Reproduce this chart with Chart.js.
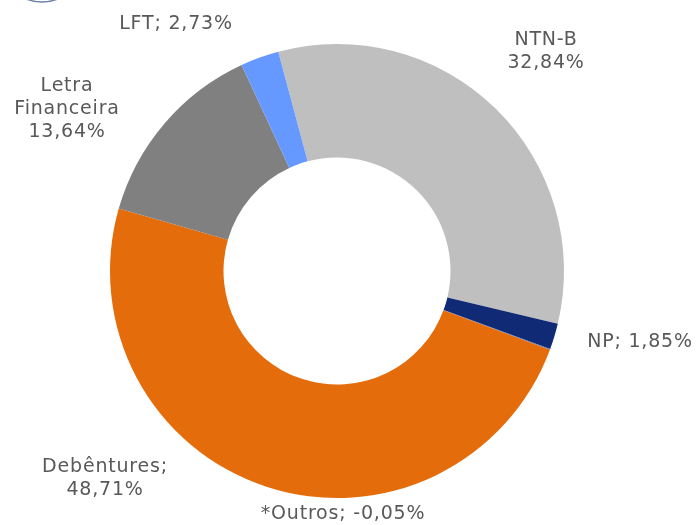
<!DOCTYPE html>
<html>
<head>
<meta charset="utf-8">
<script src="https://cdn.jsdelivr.net/npm/chart.js@4"></script>
<style>
  html, body { margin: 0; padding: 0; background: #fff; }
  #wrap { width: 697px; height: 525px; position: relative; }
</style>
</head>
<body>
<div id="wrap"><canvas id="chart"></canvas></div>
<script>
// data
const categories = ['NTN-B', 'NP', '*Outros', 'Debêntures', 'Letra Financeira', 'LFT'];
const shares = [32.84, 1.85, -0.05, 48.71, 13.64, 2.73];
const sliceColors = ['#bfbfbf', '#112a75', '#4472c4', '#e46c0a', '#808080', '#6699ff'];

// label text lines and where Excel put them (center of each block)
const labelLines = [
  ['NTN-B', '32,84%'],
  ['NP; 1,85%'],
  ['*Outros; -0,05%'],
  ['Debêntures;', '48,71%'],
  ['Letra', 'Financeira', '13,64%'],
  ['LFT; 2,73%']
];
const labelSpots = [
  [546, 52], [640, 342], [343, 514], [105, 479], [67, 109], [176, 24]
];

const labelPlugin = {
  id: 'outLabels',
  afterDatasetsDraw(chart) {
    const ctx = chart.ctx;
    ctx.save();
    ctx.fillStyle = '#595959';
    ctx.font = '19px "DejaVu Sans"';
    ctx.letterSpacing = '0.8px';
    ctx.textAlign = 'center';
    ctx.textBaseline = 'middle';
    const lh = 23;
    labelLines.forEach((lines, i) => {
      const [cx, cy] = labelSpots[i];
      const y0 = cy - (lines.length - 1) * lh / 2;
      lines.forEach((t, j) => ctx.fillText(t, cx, y0 + j * lh));
    });
    // bit of the logo cut off at the top-left corner
    ctx.strokeStyle = '#6a7fa6';
    ctx.lineWidth = 1.5;
    ctx.beginPath();
    ctx.arc(42, -40, 42, 0.3 * Math.PI, 0.7 * Math.PI);
    ctx.stroke();
    ctx.restore();
  }
};

new Chart(document.getElementById('chart'), {
  type: 'doughnut',
  data: {
    labels: categories,
    datasets: [{
      data: shares,
      backgroundColor: sliceColors,
      borderWidth: 0
    }]
  },
  options: {
    responsive: true,
    maintainAspectRatio: false,
    animation: false,
    rotation: -15,
    cutout: '50%',
    layout: { padding: { left: 110, right: 133, top: 44, bottom: 27 } },
    plugins: {
      legend: { display: false },
      tooltip: { enabled: false }
    }
  },
  plugins: [labelPlugin]
});
</script>
</body>
</html>
